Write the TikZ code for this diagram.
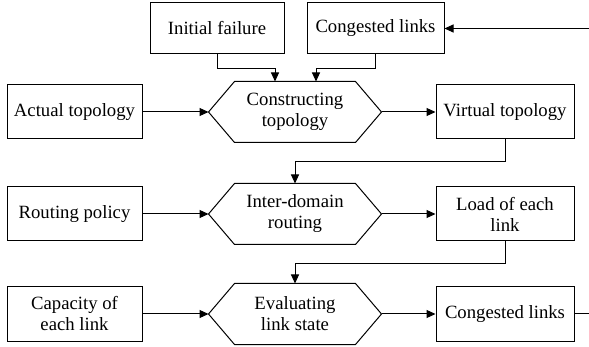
\documentclass[tikz,border=0pt]{standalone}
\usepackage{fontspec}
\setmainfont{Liberation Serif}
\usetikzlibrary{arrows.meta}

\begin{document}
\begin{tikzpicture}[x=1pt,y=-1pt,line width=1pt,
        font=\fontsize{18.7}{21}\selectfont,
        box/.style={draw,rectangle,align=center,inner sep=2pt,minimum height=54pt},
        hexa/.style={rectangle,align=center,inner sep=2pt,minimum width=172pt,minimum height=60pt},
        link/.style={-{Triangle[length=9pt,width=8pt]}}]
        \useasboundingbox (0,0) rectangle (589,347);

        \coordinate (T1) at (217,28.5);
        \coordinate (T2) at (375.5,28.5);
        \coordinate (L1) at (74.5,112);
        \coordinate (L2) at (74.5,214);
        \coordinate (L3) at (74.5,314);
        \coordinate (M1) at (295,112);
        \coordinate (M2) at (295,214);
        \coordinate (M3) at (295,314);
        \coordinate (R1) at (505,112);
        \coordinate (R2) at (505,214);
        \coordinate (R3) at (505,314);

        \node[box,minimum width=134pt,minimum height=51pt] (fail)  at (T1) {Initial failure};
        \node[box,minimum width=137pt,minimum height=51pt] (congA) at (T2) {Congested links};

        \node[box,minimum width=135pt] (actual)   at (L1) {Actual topology};
        \node[box,minimum width=135pt] (policy)   at (L2) {Routing policy};
        \node[box,minimum width=135pt] (capacity) at (L3) {Capacity of\\each link};

        \node[hexa] (cons)  at (M1) {Constructing\\topology};
        \node[hexa] (route) at (M2) {Inter-domain\\routing};
        \node[hexa] (eval)  at (M3) {Evaluating\\link state};

        \node[box,minimum width=138pt] (virtual) at (R1) {Virtual topology};
        \node[box,minimum width=138pt] (load)    at (R2) {Load of each\\link};
        \node[box,minimum width=138pt] (congB)   at (R3) {Congested links};

        % hexagon outlines
        \foreach \h in {cons,route,eval}
            \draw (\h.west) -- ([xshift=26pt]\h.north west) -- ([xshift=-26pt]\h.north east)
                -- (\h.east) -- ([xshift=-26pt]\h.south east) -- ([xshift=26pt]\h.south west) -- cycle;

        \draw[link] (fail.south)  -- ++(0,14) -| ([xshift=-20pt]cons.north);
        \draw[link] (congA.south) -- ++(0,14) -| ([xshift=21pt]cons.north);

        \draw[link] (actual)   -- (cons.west);
        \draw[link] (policy)   -- (route.west);
        \draw[link] (capacity) -- (eval.west);

        \draw[link] (cons.east)  -- (virtual);
        \draw[link] (route.east) -- (load);
        \draw[link] (eval.east)  -- (congB);

        \draw[link] (virtual.south) -- ++(0,22) -| (route.north);
        \draw[link] (load.south)    -- ++(0,22) -| (eval.north);

        % feedback loop (runs past the right edge)
        \draw[link] (congB.east) -- ++(40,0) |- (congA.east);
    \end{tikzpicture}
\end{document}
